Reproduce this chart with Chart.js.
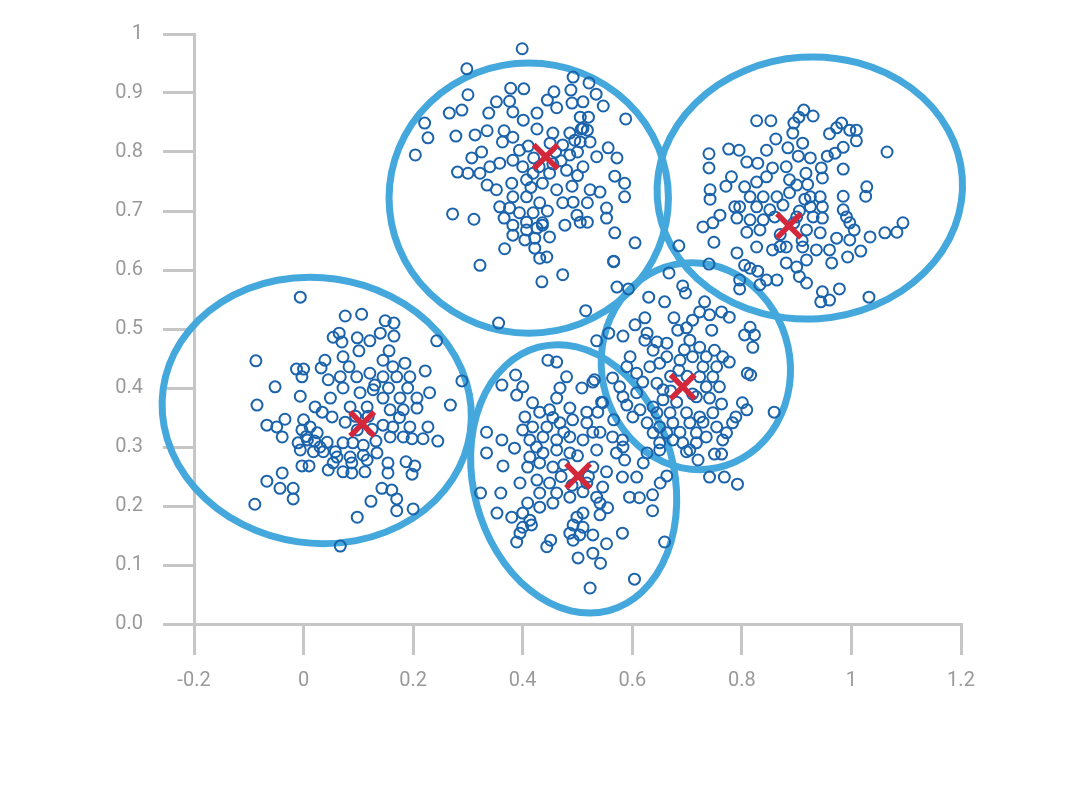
<!DOCTYPE html>
<html>
<head>
<meta charset="utf-8">
<script src="https://cdn.jsdelivr.net/npm/chart.js@4.4.1/dist/chart.umd.min.js"></script>
<style>
  html, body { margin: 0; padding: 0; background: #fff; }
  #wrap { width: 1080px; height: 787px; }
</style>
</head>
<body>
<div id="wrap"><canvas id="chart" width="1080" height="787"></canvas></div>
<script>
// tick labels as printed on the axes
const xTickLabels = ["-0.2", "0", "0.2", "0.4", "0.6", "0.8", "1", "1.2"];
const yTickLabels = ["0.0", "0.1", "0.2", "0.3", "0.4", "0.5", "0.6", "0.7", "0.8", "0.9", "1"];

// cluster centres (red crosses)
const centroids = [[0.107, 0.339], [0.442, 0.792], [0.886, 0.675], [0.501, 0.251], [0.692, 0.402]];

// cluster outlines: centre, half-width / half-height in data units, tilt in degrees
const ellipseCenters = [[0.024, 0.362], [0.411, 0.722], [0.924, 0.739], [0.493, 0.246], [0.716, 0.437]];
const ellipseRadii = [[0.283, 0.225], [0.255, 0.229], [0.279, 0.222], [0.183, 0.231], [0.172, 0.176]];
const ellipseTilt = [8, 0, -4, -15, -12];

// samples
const cluster1 = [
  [-0.006,0.554],[0.076,0.522],[0.106,0.525],[0.149,0.514],[0.165,0.51],[0.14,0.493],[0.165,0.488],
  [0.054,0.486],[0.065,0.493],[0.07,0.478],[0.098,0.485],[0.121,0.48],[0.101,0.463],[0.243,0.48],
  [0.156,0.463],[0.072,0.453],[0.039,0.447],[-0.087,0.446],[-0.013,0.432],[0,0.432],[-0.003,0.419],
  [0.032,0.434],[0.083,0.436],[0.145,0.447],[0.163,0.436],[0.185,0.442],[0.222,0.429],[0.289,0.412],
  [-0.052,0.402],[-0.006,0.386],[-0.085,0.371],[0.045,0.414],[0.067,0.419],[0.097,0.419],[0.121,0.425],
  [0.145,0.419],[0.17,0.419],[0.194,0.419],[0.049,0.383],[0.072,0.4],[0.103,0.392],[0.127,0.397],
  [0.145,0.383],[0.176,0.383],[0.207,0.383],[0.23,0.392],[0.268,0.371],[0.021,0.368],[0.052,0.351],
  [0.034,0.359],[0.085,0.368],[0.116,0.368],[0.158,0.363],[0.182,0.363],[0.207,0.366],[-0.034,0.347],
  [-0.067,0.337],[-0.049,0.334],[-0.039,0.317],[0,0.346],[-0.003,0.329],[0.012,0.334],[0.025,0.324],
  [0.007,0.312],[-0.01,0.307],[0.043,0.308],[0.076,0.342],[0.098,0.329],[0.145,0.337],[0.163,0.334],
  [0.194,0.334],[0.227,0.334],[0.182,0.317],[0.158,0.317],[0.218,0.314],[0.245,0.31],[0.198,0.314],
  [0.09,0.307],[0.109,0.303],[0.072,0.307],[0.058,0.292],[0.036,0.292],[0.018,0.292],[-0.006,0.295],
  [0.061,0.283],[0.085,0.283],[0.109,0.286],[0.134,0.29],[0.054,0.273],[0.088,0.273],[0.116,0.278],
  [0.154,0.273],[0.187,0.275],[0.203,0.268],[-0.003,0.268],[0.01,0.268],[0.045,0.261],[0.072,0.258],
  [0.088,0.256],[0.112,0.258],[0.154,0.256],[0.198,0.254],[-0.039,0.256],[-0.067,0.242],[-0.043,0.23],
  [-0.019,0.23],[-0.019,0.212],[-0.089,0.203],[0.143,0.23],[0.161,0.227],[0.17,0.212],[0.123,0.208],
  [0.17,0.192],[0.2,0.195],[0.098,0.181],[0.067,0.132],[0.118,0.352],[0.132,0.31],[0.095,0.352],
  [0.13,0.405],[0.155,0.4],[0.19,0.4],[0.005,0.318],[0.02,0.31],[0.03,0.3],[0.125,0.33],[0.175,0.35]
];

const cluster2 = [
  [0.399,0.975],[0.298,0.941],[0.492,0.927],[0.521,0.917],[0.378,0.908],[0.402,0.907],[0.3,0.897],
  [0.488,0.905],[0.534,0.898],[0.457,0.902],[0.445,0.888],[0.376,0.886],[0.352,0.885],[0.49,0.883],
  [0.51,0.885],[0.547,0.878],[0.266,0.866],[0.289,0.871],[0.338,0.866],[0.382,0.868],[0.426,0.866],
  [0.462,0.875],[0.588,0.856],[0.221,0.849],[0.227,0.824],[0.278,0.827],[0.313,0.829],[0.335,0.836],
  [0.366,0.836],[0.401,0.854],[0.505,0.859],[0.52,0.859],[0.426,0.839],[0.455,0.832],[0.486,0.832],
  [0.507,0.839],[0.518,0.837],[0.382,0.825],[0.204,0.795],[0.307,0.79],[0.325,0.8],[0.363,0.817],
  [0.394,0.803],[0.473,0.812],[0.505,0.817],[0.523,0.817],[0.556,0.807],[0.572,0.79],[0.535,0.792],
  [0.486,0.795],[0.281,0.766],[0.3,0.764],[0.322,0.764],[0.34,0.775],[0.358,0.781],[0.382,0.786],
  [0.4,0.775],[0.419,0.764],[0.449,0.764],[0.48,0.769],[0.51,0.775],[0.568,0.759],[0.586,0.747],
  [0.586,0.724],[0.335,0.744],[0.352,0.736],[0.38,0.747],[0.407,0.753],[0.436,0.747],[0.462,0.736],
  [0.49,0.742],[0.523,0.736],[0.541,0.732],[0.382,0.724],[0.407,0.724],[0.431,0.714],[0.473,0.714],
  [0.492,0.715],[0.518,0.714],[0.553,0.705],[0.358,0.707],[0.376,0.705],[0.272,0.695],[0.311,0.686],
  [0.366,0.688],[0.394,0.697],[0.419,0.697],[0.499,0.693],[0.518,0.681],[0.553,0.688],[0.382,0.676],
  [0.407,0.681],[0.436,0.68],[0.477,0.676],[0.505,0.681],[0.382,0.659],[0.407,0.668],[0.426,0.671],
  [0.436,0.676],[0.404,0.651],[0.422,0.654],[0.449,0.656],[0.568,0.663],[0.605,0.646],[0.367,0.636],
  [0.422,0.637],[0.431,0.62],[0.444,0.622],[0.322,0.608],[0.566,0.615],[0.473,0.592],[0.435,0.58],
  [0.572,0.571],[0.515,0.531],[0.356,0.51],[0.46,0.8],[0.42,0.79],[0.47,0.785],[0.5,0.8],[0.45,0.815],
  [0.41,0.81],[0.43,0.775],[0.455,0.78],[0.495,0.82],[0.51,0.84],[0.5,0.76],[0.415,0.74],[0.445,0.7]
];

const cluster3 = [
  [0.913,0.871],[0.93,0.861],[0.827,0.853],[0.853,0.853],[0.904,0.859],[0.895,0.849],[0.982,0.849],
  [0.973,0.841],[0.997,0.837],[1.009,0.837],[0.96,0.831],[1.009,0.819],[0.893,0.832],[0.862,0.822],
  [0.911,0.815],[1.065,0.8],[0.776,0.805],[0.795,0.803],[0.845,0.803],[0.884,0.807],[0.985,0.808],
  [0.97,0.798],[0.956,0.793],[0.903,0.793],[0.925,0.79],[0.74,0.797],[0.74,0.773],[0.809,0.783],
  [0.829,0.781],[0.856,0.773],[0.881,0.775],[0.917,0.764],[0.945,0.773],[0.985,0.771],[0.781,0.758],
  [0.771,0.742],[0.805,0.741],[0.827,0.749],[0.845,0.758],[0.887,0.753],[0.9,0.744],[0.947,0.756],
  [0.742,0.736],[0.742,0.72],[0.985,0.725],[1.028,0.741],[1.026,0.725],[0.815,0.724],[0.839,0.724],
  [0.864,0.724],[0.887,0.731],[0.925,0.724],[0.943,0.724],[0.787,0.707],[0.796,0.707],[0.827,0.707],
  [0.851,0.702],[0.875,0.71],[0.925,0.707],[0.947,0.707],[0.985,0.702],[0.76,0.693],[0.747,0.68],
  [0.729,0.673],[0.791,0.688],[0.815,0.685],[0.839,0.685],[0.93,0.69],[0.947,0.688],[0.991,0.69],
  [0.997,0.68],[1.094,0.68],[1.083,0.664],[1.061,0.663],[1.034,0.656],[1.005,0.668],[0.749,0.647],
  [0.809,0.664],[0.833,0.668],[0.918,0.668],[0.943,0.663],[0.973,0.654],[0.997,0.651],[1.017,0.632],
  [0.791,0.629],[0.827,0.639],[0.856,0.634],[0.881,0.639],[0.911,0.639],[0.936,0.634],[0.96,0.634],
  [0.993,0.622],[0.805,0.608],[0.815,0.603],[0.829,0.598],[0.881,0.612],[0.9,0.605],[0.918,0.617],
  [0.964,0.612],[0.796,0.583],[0.845,0.583],[0.864,0.583],[0.905,0.589],[0.918,0.578],[0.833,0.575],
  [0.796,0.568],[0.947,0.563],[0.978,0.568],[0.944,0.546],[0.96,0.549],[1.032,0.554],[0.9,0.69],
  [0.87,0.66],[0.91,0.65],[0.86,0.69],[0.905,0.7],[0.915,0.72],[0.895,0.68],[0.87,0.64],[0.92,0.745]
];

const cluster4 = [
  [0.446,0.447],[0.462,0.444],[0.387,0.422],[0.4,0.402],[0.362,0.405],[0.389,0.388],[0.48,0.419],
  [0.468,0.4],[0.508,0.4],[0.528,0.41],[0.462,0.383],[0.418,0.375],[0.404,0.351],[0.431,0.359],
  [0.449,0.363],[0.486,0.366],[0.517,0.359],[0.544,0.376],[0.537,0.359],[0.566,0.346],[0.418,0.334],
  [0.4,0.329],[0.444,0.334],[0.468,0.341],[0.491,0.346],[0.517,0.341],[0.528,0.325],[0.334,0.325],
  [0.362,0.312],[0.334,0.29],[0.385,0.298],[0.413,0.312],[0.437,0.317],[0.462,0.312],[0.486,0.317],
  [0.51,0.312],[0.535,0.295],[0.564,0.317],[0.582,0.312],[0.571,0.29],[0.586,0.278],[0.413,0.283],
  [0.437,0.29],[0.462,0.295],[0.486,0.29],[0.364,0.268],[0.409,0.266],[0.431,0.273],[0.455,0.266],
  [0.528,0.266],[0.553,0.258],[0.62,0.273],[0.582,0.249],[0.608,0.249],[0.663,0.251],[0.651,0.239],
  [0.395,0.239],[0.426,0.244],[0.449,0.239],[0.517,0.239],[0.546,0.232],[0.323,0.222],[0.36,0.222],
  [0.431,0.222],[0.462,0.222],[0.486,0.215],[0.51,0.224],[0.535,0.215],[0.595,0.215],[0.613,0.214],
  [0.637,0.219],[0.409,0.205],[0.431,0.198],[0.455,0.205],[0.541,0.205],[0.555,0.197],[0.637,0.192],
  [0.353,0.188],[0.38,0.181],[0.4,0.188],[0.413,0.176],[0.499,0.181],[0.51,0.188],[0.541,0.185],
  [0.4,0.164],[0.416,0.168],[0.492,0.168],[0.51,0.164],[0.395,0.154],[0.486,0.154],[0.504,0.151],
  [0.528,0.151],[0.582,0.154],[0.389,0.139],[0.451,0.142],[0.444,0.131],[0.492,0.142],[0.553,0.136],
  [0.659,0.139],[0.501,0.112],[0.528,0.12],[0.542,0.103],[0.604,0.076],[0.523,0.061],[0.531,0.414],
  [0.546,0.375],[0.541,0.325],[0.583,0.3],[0.475,0.27],[0.5,0.285],[0.52,0.25],[0.47,0.25],
  [0.49,0.235],[0.455,0.35],[0.475,0.325],[0.425,0.3]
];

const cluster5 = [
  [0.566,0.614],[0.667,0.595],[0.74,0.61],[0.685,0.641],[0.593,0.568],[0.63,0.554],[0.659,0.546],
  [0.692,0.573],[0.697,0.561],[0.732,0.546],[0.723,0.529],[0.763,0.529],[0.777,0.52],[0.741,0.524],
  [0.676,0.519],[0.71,0.515],[0.623,0.519],[0.605,0.507],[0.583,0.488],[0.557,0.493],[0.535,0.48],
  [0.627,0.493],[0.683,0.498],[0.699,0.502],[0.745,0.498],[0.815,0.503],[0.805,0.49],[0.823,0.49],
  [0.82,0.469],[0.623,0.481],[0.645,0.478],[0.663,0.476],[0.705,0.481],[0.723,0.469],[0.75,0.464],
  [0.765,0.453],[0.777,0.444],[0.596,0.453],[0.638,0.464],[0.663,0.453],[0.687,0.447],[0.71,0.453],
  [0.735,0.453],[0.59,0.436],[0.608,0.425],[0.632,0.436],[0.65,0.442],[0.729,0.436],[0.754,0.436],
  [0.81,0.425],[0.816,0.422],[0.564,0.417],[0.577,0.402],[0.619,0.41],[0.645,0.408],[0.723,0.419],
  [0.747,0.419],[0.735,0.402],[0.759,0.402],[0.583,0.385],[0.608,0.392],[0.656,0.397],[0.656,0.38],
  [0.681,0.376],[0.717,0.385],[0.741,0.383],[0.763,0.373],[0.801,0.375],[0.809,0.363],[0.859,0.359],
  [0.59,0.371],[0.614,0.363],[0.638,0.368],[0.645,0.358],[0.601,0.351],[0.669,0.358],[0.699,0.358],
  [0.723,0.351],[0.747,0.358],[0.783,0.341],[0.789,0.351],[0.627,0.341],[0.65,0.334],[0.674,0.341],
  [0.705,0.341],[0.729,0.342],[0.754,0.334],[0.638,0.324],[0.663,0.324],[0.687,0.325],[0.717,0.324],
  [0.735,0.317],[0.772,0.324],[0.765,0.312],[0.65,0.307],[0.674,0.312],[0.692,0.307],[0.717,0.307],
  [0.65,0.295],[0.699,0.292],[0.705,0.295],[0.75,0.288],[0.763,0.288],[0.627,0.29],[0.72,0.278],
  [0.741,0.249],[0.768,0.249],[0.792,0.237],[0.7,0.42],[0.67,0.42],[0.71,0.39],[0.685,0.43],
  [0.695,0.465],[0.67,0.395]
];

const clusters = [cluster1, cluster2, cluster3, cluster4, cluster5];
const toXY = p => ({x: p[0], y: p[1]});

const ellipsePlugin = {
  id: "clusterEllipses",
  beforeDatasetsDraw(chart) {
    const {ctx, scales: {x: xs, y: ys}} = chart;
    ctx.save();
    ctx.strokeStyle = "#45a8dc";
    ctx.lineWidth = 7;
    ellipseCenters.forEach((c, i) => {
      const px = xs.getPixelForValue(c[0]);
      const py = ys.getPixelForValue(c[1]);
      const rx = Math.abs(xs.getPixelForValue(c[0] + ellipseRadii[i][0]) - px);
      const ry = Math.abs(ys.getPixelForValue(c[1] + ellipseRadii[i][1]) - py);
      ctx.beginPath();
      ctx.ellipse(px, py, rx, ry, ellipseTilt[i] * Math.PI / 180, 0, Math.PI * 2);
      ctx.stroke();
    });
    ctx.restore();
  }
};

const gray = "#c6c6c6";
const tickFont = {family: "Roboto", size: 20, weight: 400};

const datasets = [{
  label: "centroids",
  data: centroids.map(toXY),
  pointStyle: "crossRot",
  radius: 17,
  borderWidth: 5.5,
  borderColor: "#d3283b",
  order: 0,
  clip: false
}];

clusters.forEach((pts, i) => {
  datasets.push({
    label: "cluster " + (i + 1),
    data: pts.map(toXY),
    pointStyle: "circle",
    radius: 5.5,
    borderWidth: 2,
    borderColor: "#1b63ab",
    backgroundColor: "rgba(255,255,255,0)",
    order: 1,
    clip: false
  });
});

new Chart(document.getElementById("chart"), {
  type: "scatter",
  data: {datasets: datasets},
  options: {
    responsive: false,
    animation: false,
    devicePixelRatio: 1,
    layout: {padding: {left: 0, top: 34, right: 119, bottom: 83}},
    plugins: {legend: {display: false}, tooltip: {enabled: false}},
    scales: {
      x: {
        type: "linear",
        min: -0.2,
        max: 1.2,
        afterFit: s => { s.height = 80; },
        border: {color: gray, width: 3},
        grid: {drawOnChartArea: false, color: gray, lineWidth: 3, tickLength: 31},
        ticks: {
          stepSize: 0.2,
          padding: 14,
          color: "#9a9a9a",
          font: tickFont,
          callback: (v, i) => xTickLabels[i]
        }
      },
      y: {
        type: "linear",
        min: 0,
        max: 1,
        afterFit: s => { s.width = 194; },
        border: {color: gray, width: 3},
        grid: {drawOnChartArea: false, color: gray, lineWidth: 3, tickLength: 31},
        ticks: {
          stepSize: 0.1,
          padding: 20,
          color: "#9a9a9a",
          font: tickFont,
          callback: (v, i) => yTickLabels[i]
        }
      }
    }
  },
  plugins: [ellipsePlugin]
});
</script>
</body>
</html>
